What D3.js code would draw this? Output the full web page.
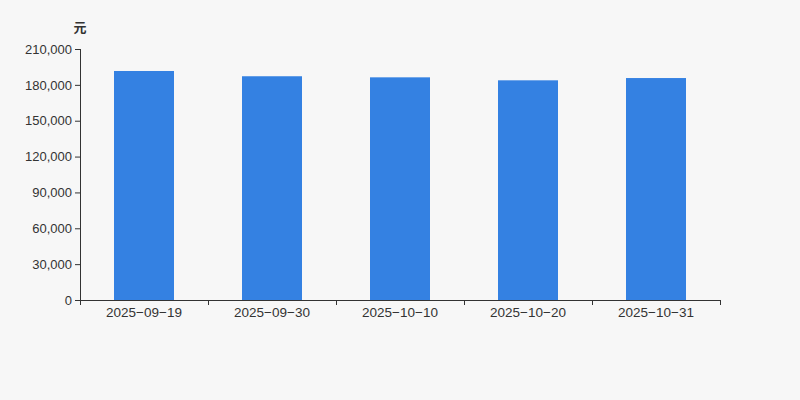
<!DOCTYPE html>
<html><head><meta charset="utf-8">
<script src="https://cdn.jsdelivr.net/npm/d3@7"></script>
<style>
html,body{margin:0;padding:0;background:#f7f7f7;}
svg{display:block;font-family:"Liberation Sans",Arial,sans-serif;}
</style></head>
<body>
<script>
const categories = ["2025-09-19","2025-09-30","2025-10-10","2025-10-20","2025-10-31"];
const values = [191600, 187200, 186300, 183800, 185700];
const yTicks = [0,30000,60000,90000,120000,150000,180000,210000];
const unitLabel = "元";

(function(){
const W=800,H=400, mLeft=80, mRight=720, mTop=49, mBottom=300;
const svg=d3.select("body").append("svg").attr("width",W).attr("height",H);
svg.append("rect").attr("width",W).attr("height",H).attr("fill","#f7f7f7");

const x=d3.scaleBand().domain(categories).range([mLeft,mRight]);
const y=d3.scaleLinear().domain([0,210000]).range([mBottom,mTop]);

const barW=60;
svg.selectAll("rect.bar").data(values).enter().append("rect").attr("class","bar")
  .attr("x",(d,i)=>x(categories[i])+x.bandwidth()/2-barW/2)
  .attr("width",barW)
  .attr("y",d=>y(d))
  .attr("height",d=>mBottom-y(d))
  .attr("fill","#3481e2");

const fmt=d3.format(",");
const ya=svg.append("g").attr("transform",`translate(${mLeft},0)`)
  .call(d3.axisLeft(y).tickValues(yTicks).tickFormat(fmt).tickSize(5).tickPadding(3));
ya.select(".domain").attr("stroke","#333").attr("d",`M0.5,${mTop}V${mBottom}`);
ya.selectAll(".tick line").attr("stroke","#333");
ya.selectAll("text").attr("fill","#333").attr("font-size",13).attr("font-family","Liberation Sans, Arial, sans-serif");

const xa=svg.append("g").attr("transform",`translate(0,${mBottom})`)
  .call(d3.axisBottom(x).tickSize(0).tickPadding(6).tickFormat(d=>d.replace(/-/g,"\u2212")));
xa.select(".domain").attr("stroke","#333").attr("d",`M${mLeft},0.5H${mRight}`);
xa.selectAll("text").attr("fill","#333").attr("font-size",13.5).attr("font-family","Liberation Sans, Arial, sans-serif").attr("dy","0.85em");
const bounds=categories.map(c=>x(c)).concat([mRight]);
xa.selectAll("line.bt").data(bounds).enter().append("line").attr("class","bt")
  .attr("x1",d=>d+0.5).attr("x2",d=>d+0.5).attr("y1",0).attr("y2",5).attr("stroke","#333");

svg.append("text").attr("x",80).attr("y",32).attr("text-anchor","middle")
  .attr("font-size",13).attr("font-weight","bold").attr("fill","#333")
  .attr("font-family","Noto Sans CJK SC, sans-serif").text(unitLabel);
})();
</script>
</body></html>
